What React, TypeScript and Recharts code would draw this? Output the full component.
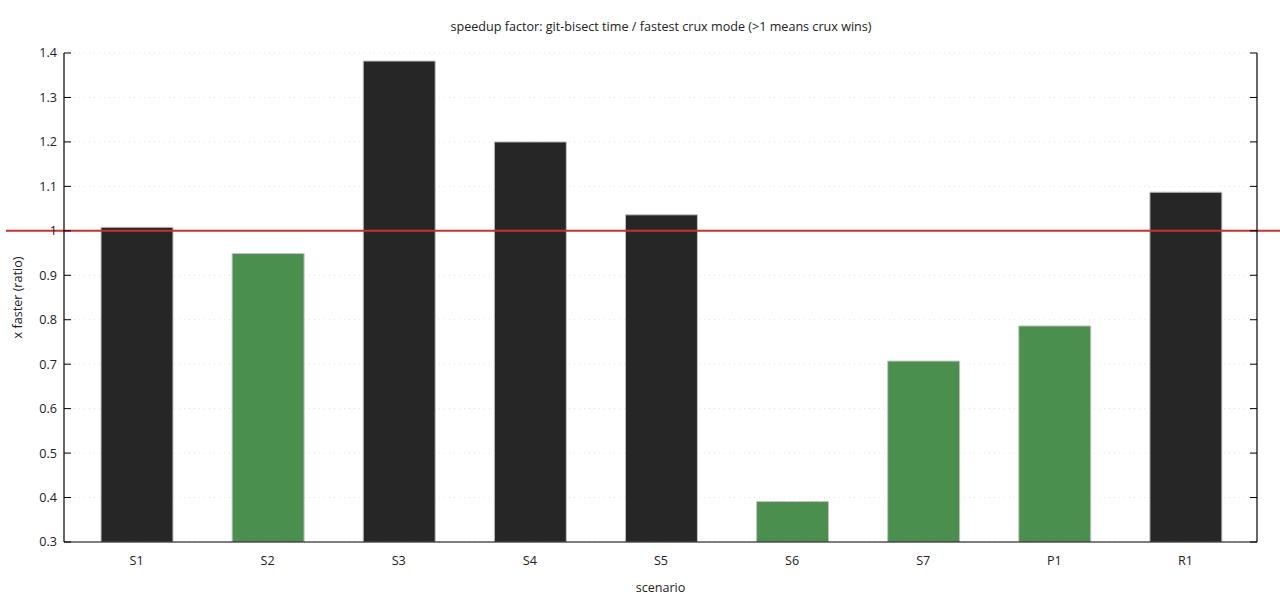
import React from 'react';
import { BarChart, Bar, XAxis, YAxis, CartesianGrid, ReferenceLine, Cell } from 'recharts';

const scenarios = ['S1', 'S2', 'S3', 'S4', 'S5', 'S6', 'S7', 'P1', 'R1'];
const speedup = [1.008, 0.949, 1.382, 1.2, 1.036, 0.391, 0.707, 0.786, 1.087];
const barColors = ['#262626', '#4b8f4f', '#262626', '#262626', '#262626', '#4b8f4f', '#4b8f4f', '#4b8f4f', '#262626'];
const yTicks = [0.3, 0.4, 0.5, 0.6, 0.7, 0.8, 0.9, 1, 1.1, 1.2, 1.3, 1.4];
const yTickLabels = ['0.3', '0.4', '0.5', '0.6', '0.7', '0.8', '0.9', '1', '1.1', '1.2', '1.3', '1.4'];

const data = scenarios.map((s, i) => ({ name: s, value: speedup[i] }));

const FONT = '"Open Sans", "Noto Sans", sans-serif';
const FS = 12.6;
const TXT = '#222';
const TICK_LEN = 7;
const LEFT_MARGIN = 7;

const LeftTick = (p: any) => {
  const label = yTickLabels[yTicks.indexOf(p.payload.value)] ?? String(p.payload.value);
  const axisX = p.x + LEFT_MARGIN;
  return (
    <g>
      <line x1={axisX} x2={axisX + TICK_LEN} y1={p.y} y2={p.y} stroke="#000" strokeWidth={1} />
      <text x={p.x} y={p.y} dy="0.35em" textAnchor="end" fontSize={FS} fill={TXT} fontFamily={FONT}>
        {label}
      </text>
    </g>
  );
};

const RightTick = (p: any) => (
  <line x1={p.x - TICK_LEN} x2={p.x} y1={p.y} y2={p.y} stroke="#000" strokeWidth={1} />
);

const TopTick = (p: any) => (
  <line x1={p.x} x2={p.x} y1={p.y} y2={p.y + TICK_LEN} stroke="#000" strokeWidth={1} />
);

export default function App() {
  return (
    <div style={{ position: 'absolute', left: 0, top: 0, width: 1280, height: 600, background: '#fff' }}>
      <BarChart
        width={1280}
        height={600}
        data={data}
        margin={{ top: 53, right: 0, bottom: 0, left: 0 }}
        barCategoryGap={0}
        style={{ fontFamily: FONT }}
      >
        <text x={661} y={31} textAnchor="middle" fontSize={FS} fill={TXT} fontFamily={FONT}>
          speedup factor: git-bisect time / fastest crux mode (&gt;1 means crux wins)
        </text>
        <CartesianGrid yAxisId="left" vertical={false} stroke="#e4e4e4" strokeDasharray="1 4" />
        <XAxis
          dataKey="name"
          xAxisId="bottom"
          height={58}
          padding={{ left: 7, right: 6 }}
          tickLine={false}
          tickSize={0}
          tickMargin={14}
          axisLine={{ stroke: '#000', strokeWidth: 1.2 }}
          tick={{ fontSize: FS, fill: TXT, fontFamily: FONT }}
          label={{ value: 'scenario', position: 'insideBottom', offset: 8, fontSize: FS, fill: TXT, fontFamily: FONT }}
        />
        <XAxis
          dataKey="name"
          xAxisId="top"
          orientation="top"
          height={0}
          padding={{ left: 7, right: 6 }}
          tickSize={0}
          tickMargin={0}
          tickLine={false}
          tick={TopTick}
          axisLine={{ stroke: '#000', strokeWidth: 1.2 }}
        />
        <YAxis
          yAxisId="left"
          width={64}
          domain={[0.3, 1.4]}
          ticks={yTicks}
          interval={0}
          allowDataOverflow
          tickSize={0}
          tickMargin={LEFT_MARGIN}
          tickLine={false}
          axisLine={{ stroke: '#000', strokeWidth: 1.2 }}
          tick={LeftTick}
          label={{
            value: 'x faster (ratio)',
            content: (p: any) => {
              const vb = p.viewBox || {};
              const cx = 22;
              const cy = vb.y + vb.height / 2;
              return (
                <text x={cx} y={cy} transform={`rotate(-90 ${cx} ${cy})`} textAnchor="middle" fontSize={FS} fill={TXT} fontFamily={FONT}>
                  x faster (ratio)
                </text>
              );
            },
          }}
        />
        <YAxis
          yAxisId="right"
          orientation="right"
          width={23}
          domain={[0.3, 1.4]}
          ticks={yTicks}
          interval={0}
          allowDataOverflow
          tickSize={0}
          tickMargin={0}
          tickLine={false}
          tick={RightTick}
          axisLine={{ stroke: '#000', strokeWidth: 1.2 }}
        />
        <ReferenceLine
          yAxisId="left"
          xAxisId="bottom"
          y={1}
          ifOverflow="visible"
          shape={(p: any) => (
            <line x1={6} x2={1280} y1={p.y1} y2={p.y2} stroke="#c8312d" strokeWidth={2} />
          )}
        />
        <Bar
          dataKey="value"
          xAxisId="bottom"
          yAxisId="left"
          barSize={72}
          stroke="#c4c4c4"
          strokeWidth={1}
          isAnimationActive={false}
        >
          {data.map((d, i) => (
            <Cell key={d.name} fill={barColors[i]} />
          ))}
        </Bar>
      </BarChart>
    </div>
  );
}
